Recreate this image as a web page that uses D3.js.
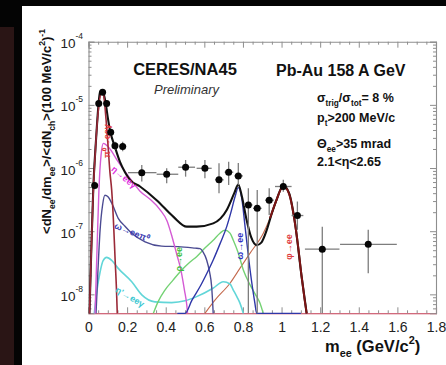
<!DOCTYPE html>
<html>
<head>
<meta charset="utf-8">
<script src="https://cdn.jsdelivr.net/npm/d3@7"></script>
<style>
  html, body { margin: 0; padding: 0; background: #000; }
  svg { display: block; }
</style>
</head>
<body>
<svg id="chart" width="446" height="365"></svg>
<script>
// ---------------- data ----------------
const FLOOR = 5e-9;   // values at or below the plot floor

// measured dielectron yield (GeV/c^2, per 100 MeV/c^2)
const massPts  = [0.032, 0.053, 0.073, 0.094, 0.115, 0.137, 0.177, 0.276, 0.405, 0.503, 0.603,
                  0.676, 0.726, 0.776, 0.828, 0.874, 0.936, 1.009, 1.082, 1.211, 1.449];
const yieldPts = [5.3e-7, 1.05e-5, 1.58e-5, 1.05e-5, 3.7e-6, 2.25e-6, 2.2e-6, 8.45e-7, 7.97e-7, 1.03e-6, 9.9e-7,
                  6.5e-7, 8.6e-7, 7.5e-7, 2.6e-7, 2.3e-7, 3.1e-7, 5.1e-7, 1.77e-7, 5.2e-8, 6.2e-8];
const binLo    = [0.022, 0.043, 0.063, 0.084, 0.105, 0.125, 0.160, 0.205, 0.353, 0.465, 0.560,
                  0.655, 0.705, 0.755, 0.805, 0.852, 0.915, 0.966, 1.052, 1.121, 1.303];
const binHi    = [0.042, 0.063, 0.083, 0.104, 0.125, 0.150, 0.195, 0.352, 0.465, 0.552, 0.638,
                  0.700, 0.750, 0.800, 0.850, 0.897, 0.960, 1.052, 1.113, 1.300, 1.597];
const errLo    = [4.6e-7, 9.5e-6, 1.45e-5, 9.5e-6, 3.3e-6, 1.95e-6, 1.85e-6, 6.1e-7, 5.75e-7, 7.3e-7, 6.9e-7,
                  4.0e-7, 5.4e-7, 5.4e-7, FLOOR, FLOOR, 1.8e-7, 4.2e-7, 1.05e-7, FLOOR, 2.16e-8];
const errHi    = [6.1e-7, 1.16e-5, 1.72e-5, 1.16e-5, 4.2e-6, 2.6e-6, 2.6e-6, 1.12e-6, 9.9e-7, 1.34e-6, 1.34e-6,
                  1.19e-6, 1.26e-6, 1.2e-6, 4.8e-7, 4.5e-7, 4.8e-7, 6.5e-7, 2.95e-7, 1.18e-7, 1.05e-7];

// hadronic cocktail, [mass, yield]
const totalCurve = [[0.005, FLOOR], [0.013, 3.5e-8], [0.025, 5.0e-7], [0.039, 2.8e-6], [0.060, 1.6e-5],
  [0.071, 1.72e-5], [0.080, 1.45e-5], [0.089, 1.06e-5], [0.101, 6.0e-6], [0.111, 4.0e-6], [0.137, 2.15e-6],
  [0.163, 1.25e-6], [0.189, 8.6e-7], [0.215, 6.5e-7], [0.267, 5.1e-7], [0.353, 3.1e-7], [0.439, 1.7e-7],
  [0.509, 1.18e-7], [0.560, 1.18e-7], [0.646, 1.33e-7], [0.716, 2.17e-7], [0.755, 4.0e-7], [0.776, 5.5e-7],
  [0.794, 3.6e-7], [0.819, 1.5e-7], [0.842, 8.1e-8], [0.871, 6.0e-8], [0.895, 6.6e-8], [0.923, 1.04e-7],
  [0.949, 1.9e-7], [0.975, 3.2e-7], [1.009, 5.3e-7], [1.039, 4.0e-7], [1.070, 1.33e-7], [1.104, 1.9e-8],
  [1.130, FLOOR]];
const pi0Dalitz = [[0.005, FLOOR], [0.013, 3.5e-8], [0.023, 3.1e-7], [0.039, 2.8e-6], [0.054, 1.0e-5],
  [0.070, 1.66e-5], [0.080, 1.33e-5], [0.091, 5.8e-6], [0.101, 2.3e-6], [0.111, 8.6e-7], [0.120, 4.5e-7],
  [0.129, 1.5e-7], [0.138, 3.5e-8], [0.145, 1.17e-8], [0.149, FLOOR]];
const etaDalitz = [[0.034, FLOOR], [0.044, 5.0e-8], [0.054, 4.5e-7], [0.065, 1.6e-6], [0.077, 2.46e-6],
  [0.103, 2.15e-6], [0.154, 1.25e-6], [0.206, 7.5e-7], [0.267, 4.3e-7], [0.319, 3.2e-7], [0.370, 2.2e-7],
  [0.407, 1.45e-7], [0.433, 8.1e-8], [0.458, 4.2e-8], [0.479, 2.4e-8], [0.497, 1.17e-8], [0.509, 6.8e-9],
  [0.513, FLOOR]];
const omegaDalitz = [[0.039, FLOOR], [0.049, 2.4e-8], [0.060, 1.04e-7], [0.073, 2.6e-7], [0.085, 3.7e-7],
  [0.101, 3.5e-7], [0.120, 2.8e-7], [0.154, 1.6e-7], [0.189, 1.2e-7], [0.224, 9.3e-8], [0.293, 6.8e-8],
  [0.379, 5.8e-8], [0.465, 5.7e-8], [0.552, 5.4e-8], [0.578, 5.3e-8], [0.593, 4.7e-8], [0.612, 3.5e-8],
  [0.627, 2.26e-8], [0.638, 1.32e-8], [0.646, FLOOR]];
const etaPrimeDalitz = [[0.030, FLOOR], [0.044, 1.17e-8], [0.060, 2.26e-8], [0.075, 3.4e-8], [0.094, 3.85e-8],
  [0.122, 3.4e-8], [0.154, 2.58e-8], [0.224, 1.58e-8], [0.276, 9.8e-9], [0.344, 7.6e-9], [0.431, 7.4e-9],
  [0.500, 7.9e-9], [0.560, 9.2e-9], [0.645, 1.25e-8], [0.698, 1.58e-8], [0.733, 1.46e-8], [0.750, 1.17e-8],
  [0.769, 9.1e-9], [0.785, 7.2e-9], [0.802, FLOOR]];
const rhoEE = [[0.336, FLOOR], [0.360, 7.6e-9], [0.396, 1.17e-8], [0.438, 1.68e-8], [0.483, 2.43e-8],
  [0.526, 3.25e-8], [0.560, 3.95e-8], [0.603, 5.4e-8], [0.646, 7.2e-8], [0.681, 9.3e-8], [0.707, 1.04e-7],
  [0.733, 9.3e-8], [0.750, 7.2e-8], [0.774, 4.7e-8], [0.802, 2.43e-8], [0.837, 1.41e-8], [0.871, 9.2e-9],
  [0.888, 7.3e-9], [0.905, FLOOR]];
const omegaEE = [[0.46, FLOOR], [0.500, FLOOR], [0.536, 8.1e-9], [0.578, 1.33e-8], [0.614, 2.18e-8],
  [0.646, 3.5e-8], [0.681, 6.3e-8], [0.716, 1.18e-7], [0.738, 2.0e-7], [0.759, 3.5e-7], [0.776, 4.9e-7],
  [0.794, 3.3e-7], [0.811, 1.18e-7], [0.837, 2.43e-8], [0.862, 7.2e-9], [0.871, FLOOR], [1.10, FLOOR]];
const broadTail = [[0.603, FLOOR], [0.655, 8.1e-9], [0.733, 1.5e-8], [0.785, 2.6e-8], [0.837, 4.5e-8],
  [0.905, 9.2e-8], [0.957, 2.16e-7], [0.982, 3.5e-7]];
const phiEE = [[0.940, 1.6e-7], [0.975, 3.2e-7], [1.009, 5.2e-7], [1.039, 3.9e-7], [1.070, 1.3e-7],
  [1.085, 6e-8], [1.104, 1.9e-8], [1.119, 8.5e-9], [1.130, FLOOR]];

// axis ticks
const xTickValues = [0, 0.2, 0.4, 0.6, 0.8, 1, 1.2, 1.4, 1.6, 1.8];
const xTickLabels = ["0", "0.2", "0.4", "0.6", "0.8", "1", "1.2", "1.4", "1.6", "1.8"];
const yTickExps = [-4, -5, -6, -7, -8];

// ---------------- drawing ----------------
const W = 446, H = 365;
const FONT = '"Liberation Sans", Arial, Helvetica, sans-serif';
const FRAME = "#8e8e8e";
const svg = d3.select("#chart");

// dark surround and white page
svg.append("rect").attr("width", W).attr("height", H).attr("fill", "#040404");
svg.append("rect").attr("x", 0).attr("y", 27).attr("width", 14).attr("height", H - 27).attr("fill", "#2a1515");
svg.append("rect").attr("x", 22).attr("y", 6).attr("width", W - 22).attr("height", H - 6).attr("fill", "#ffffff");

const x = d3.scaleLinear().domain([0, 1.8]).range([88.5, 436]);
const y = d3.scaleLog().domain([Math.pow(10, -8.3), 1e-4]).range([313.3, 41.7]);
const [x0, x1] = x.range();
const [yb, yt] = y.range();

// tick positions
const xMinor = d3.range(0, 37).map(i => +(i * 0.05).toFixed(2)).filter(v => Math.abs(v / 0.2 - Math.round(v / 0.2)) > 1e-6);
const yMajor = yTickExps.map(e => Math.pow(10, e));
const yMinor = [];
for (let e = -9; e < -4; e++) for (let k = 2; k <= 9; k++) {
  const v = k * Math.pow(10, e);
  if (v >= y.domain()[0] && v <= 1e-4) yMinor.push(v);
}

function styleAxis(g, color) {
  g.selectAll(".domain").attr("stroke", color || FRAME).attr("stroke-width", 1.1);
  g.selectAll(".tick line").attr("stroke", FRAME).attr("stroke-width", 1);
}
function minorAxis(axis) {
  return g => { g.call(axis); g.select(".domain").remove(); g.selectAll(".tick line").attr("stroke", FRAME); };
}

// bottom axis with labels
const gBottom = svg.append("g").attr("transform", `translate(0,${yb})`)
  .call(d3.axisBottom(x).tickValues(xTickValues).tickSize(-6).tickPadding(9)
    .tickFormat((d, i) => xTickLabels[i]));
styleAxis(gBottom, "#c23a52");
gBottom.selectAll("text").attr("font-family", FONT).attr("font-size", 14).attr("fill", "#222");
svg.append("g").attr("transform", `translate(0,${yb})`)
  .call(minorAxis(d3.axisBottom(x).tickValues(xMinor).tickSize(-3).tickFormat("")));

// top axis
const gTop = svg.append("g").attr("transform", `translate(0,${yt})`)
  .call(d3.axisTop(x).tickValues(xTickValues).tickSize(-6).tickFormat(""));
styleAxis(gTop);
svg.append("g").attr("transform", `translate(0,${yt})`)
  .call(minorAxis(d3.axisTop(x).tickValues(xMinor).tickSize(-3).tickFormat("")));

// left axis with power-of-ten labels
const gLeft = svg.append("g").attr("transform", `translate(${x0},0)`)
  .call(d3.axisLeft(y).tickValues(yMajor).tickSize(-6).tickPadding(5.5).tickFormat(""));
styleAxis(gLeft);
svg.append("g").attr("transform", `translate(${x0},0)`)
  .call(minorAxis(d3.axisLeft(y).tickValues(yMinor).tickSize(-3).tickFormat("")));
gLeft.selectAll(".tick text").each(function (d, i) {
  const t = d3.select(this).attr("dy", null).attr("y", 6)
    .attr("font-family", FONT).attr("fill", "#222").attr("font-size", 13.5);
  t.append("tspan").text("10");
  t.append("tspan").attr("font-size", 8.5).attr("dy", -9).text(String(yTickExps[i]));
});

// right axis
const gRight = svg.append("g").attr("transform", `translate(${x1},0)`)
  .call(d3.axisRight(y).tickValues(yMajor).tickSize(-6).tickFormat(""));
styleAxis(gRight);
svg.append("g").attr("transform", `translate(${x1},0)`)
  .call(minorAxis(d3.axisRight(y).tickValues(yMinor).tickSize(-3).tickFormat("")));

// clip for cocktail curves
svg.append("clipPath").attr("id", "plotClip").append("rect")
  .attr("x", x0).attr("y", yt).attr("width", x1 - x0).attr("height", yb - yt + 1);
const gCurves = svg.append("g").attr("clip-path", "url(#plotClip)");

const line = d3.line()
  .x(d => x(d[0]))
  .y(d => y(Math.max(d[1], 1e-10)))
  .curve(d3.curveMonotoneX);

const curves = [
  { data: broadTail,      color: "#c46a4e", width: 1.1 },
  { data: etaPrimeDalitz, color: "#62d6d8", width: 1.6 },
  { data: rhoEE,          color: "#74d274", width: 1.4 },
  { data: omegaDalitz,    color: "#4b4b92", width: 1.4 },
  { data: etaDalitz,      color: "#d45ad4", width: 1.4 },
  { data: omegaEE,        color: "#2f37a8", width: 1.4 },
  { data: totalCurve,     color: "#111111", width: 2.1 },
  { data: pi0Dalitz,      color: "#9b2a38", width: 1.6 },
  { data: phiEE,          color: "#7c1414", width: 2.0 }
];
curves.forEach(c => {
  gCurves.append("path").attr("d", line(c.data)).attr("fill", "none")
    .attr("stroke", c.color).attr("stroke-width", c.width).attr("stroke-linejoin", "round");
});

// curve labels, anchored in data coordinates
const curveLabels = [
  { text: "π⁰→eeγ", m: 0.093, v: 2.67e-6, angle: -90, color: "#e0383c" },
  { text: "η→eeγ",  m: 0.184, v: 7.2e-7,  angle: 40,  color: "#e030e0" },
  { text: "ω→eeπ⁰", m: 0.225, v: 9.7e-8,  angle: 22,  color: "#3a3ab0" },
  { text: "η'→eeγ", m: 0.215, v: 9.1e-9,  angle: 30,  color: "#3cc8d2" },
  { text: "ρ→ee",   m: 0.466, v: 3.6e-8,  angle: -90, color: "#3cc03c" },
  { text: "ω→ee",   m: 0.785, v: 5.8e-8,  angle: -90, color: "#3030c4" },
  { text: "φ→ee",   m: 1.039, v: 5.6e-8,  angle: -90, color: "#e04040" }
];
curveLabels.forEach(l => {
  svg.append("text")
    .attr("transform", `translate(${x(l.m)},${y(l.v)}) rotate(${l.angle})`)
    .attr("text-anchor", "middle").attr("dy", "0.35em")
    .attr("font-family", FONT).attr("font-size", 9).attr("font-weight", "bold")
    .attr("fill", l.color).text(l.text);
});

// data points with error bars
const gPts = svg.append("g");
massPts.forEach((m, i) => {
  const cy = y(yieldPts[i]);
  gPts.append("line").attr("x1", x(m)).attr("x2", x(m))
    .attr("y1", Math.min(y(errLo[i]), yb)).attr("y2", y(errHi[i]))
    .attr("stroke", "#7d7d7d").attr("stroke-width", 1.3);
  gPts.append("line").attr("x1", x(binLo[i])).attr("x2", x(binHi[i]))
    .attr("y1", cy).attr("y2", cy)
    .attr("stroke", "#7d7d7d").attr("stroke-width", 1.3);
});
gPts.selectAll("circle").data(massPts).join("circle")
  .attr("cx", d => x(d)).attr("cy", (d, i) => y(yieldPts[i])).attr("r", 3.5).attr("fill", "#060606");

// text with sub/superscripts
function rich(sel, parts, size) {
  let shift = 0;
  parts.forEach(([s, kind]) => {
    const target = kind === "sub" ? size * 0.32 : kind === "sup" ? -size * 0.45 : 0;
    sel.append("tspan").attr("dy", target - shift).attr("font-size", kind ? size * 0.66 : size).text(s);
    shift = target;
  });
}

// titles
svg.append("text").attr("x", 185).attr("y", 75).attr("text-anchor", "middle")
  .attr("font-family", FONT).attr("font-weight", "bold").attr("font-size", 16.5).attr("fill", "#111")
  .text("CERES/NA45");
svg.append("text").attr("x", 276).attr("y", 76).attr("font-family", FONT).attr("font-weight", "bold")
  .attr("font-size", 16).attr("fill", "#111").text("Pb-Au 158 A GeV");
svg.append("text").attr("x", 154).attr("y", 94).attr("font-family", FONT).attr("font-style", "italic")
  .attr("font-size", 13).attr("fill", "#333").text("Preliminary");

// cut annotations
const notes = [
  { parts: [["σ"], ["trig", "sub"], ["/σ"], ["tot", "sub"], ["= 8 %"]], y: 101.5 },
  { parts: [["p"], ["t", "sub"], [">200 MeV/c"]], y: 122 },
  { parts: [["Θ"], ["ee", "sub"], [">35 mrad"]], y: 148 },
  { parts: [["2.1<η<2.65"]], y: 166 }
];
notes.forEach(n => {
  const t = svg.append("text").attr("x", 317).attr("y", n.y).attr("font-family", FONT)
    .attr("font-weight", "bold").attr("fill", "#111");
  rich(t, n.parts, 12.5);
});

// axis titles
const xTitle = svg.append("text").attr("x", 325).attr("y", 351.5).attr("font-family", FONT)
  .attr("font-weight", "bold").attr("fill", "#111");
rich(xTitle, [["m"], ["ee", "sub"], [" (GeV/c"], ["2", "sup"], [")"]], 16.5);

const yTitle = svg.append("text").attr("transform", "translate(50.5,131.5) rotate(-90)")
  .attr("text-anchor", "middle").attr("font-family", FONT).attr("font-weight", "bold").attr("fill", "#111");
rich(yTitle, [["<dN"], ["ee", "sub"], ["/dm"], ["ee", "sub"], [">/<dN"], ["ch", "sub"],
  [">(100 MeV/c"], ["2", "sup"], [")"], ["-1", "sup"]], 13);
</script>
</body>
</html>
